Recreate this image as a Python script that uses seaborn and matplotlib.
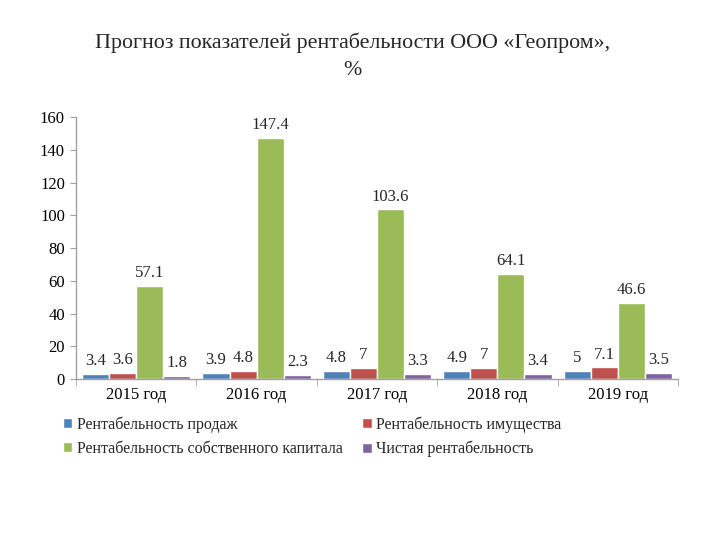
import pandas as pd
import matplotlib.pyplot as plt
import seaborn as sns

years = ["2015 год", "2016 год", "2017 год", "2018 год", "2019 год"]
series = [
    "Рентабельность продаж",
    "Рентабельность имущества",
    "Рентабельность собственного капитала",
    "Чистая рентабельность",
]
sales = [3.4, 3.9, 4.8, 4.9, 5]
assets = [3.6, 4.8, 7, 7, 7.1]
equity = [57.1, 147.4, 103.6, 64.1, 46.6]
net = [1.8, 2.3, 3.3, 3.4, 3.5]
colors = ["#4F81BD", "#C0504D", "#9BBB59", "#8064A2"]

rows = []
for name, vals in zip(series, [sales, assets, equity, net]):
    for y, v in zip(years, vals):
        rows.append({"year": y, "series": name, "value": v})
df = pd.DataFrame(rows)

sns.set_style("white")
plt.rcParams["font.family"] = ["Liberation Serif", "DejaVu Serif"]

fig = plt.figure(figsize=(7.2, 5.4), dpi=100)
ax = fig.add_axes([0.1056, 0.298, 0.836, 0.485])

sns.barplot(data=df, x="year", y="value", hue="series", palette=colors,
            width=0.9, gap=0, saturation=1, ax=ax, legend=True)

for cont in ax.containers:
    labels = [f"{v:g}" for v in cont.datavalues]
    ax.bar_label(cont, labels=labels, padding=3.5, fontsize=12)

ax.set_ylim(0, 160)
ax.set_yticks(range(0, 161, 20))
ax.set_xlim(-0.5, 4.5)
ax.set_xlabel("")
ax.set_ylabel("")
ax.tick_params(axis="both", labelsize=12, colors="black")
ax.tick_params(axis="x", length=0, pad=6)
ax.tick_params(axis="y", length=4, color="#A0A0A0", left=True, pad=4)
ax.set_xticks([-0.5, 0.5, 1.5, 2.5, 3.5, 4.5], minor=True)
ax.tick_params(axis="x", which="minor", length=5, color="#A0A0A0", bottom=True)
for side in ["top", "right"]:
    ax.spines[side].set_visible(False)
for side in ["left", "bottom"]:
    ax.spines[side].set_color("#A0A0A0")
    ax.spines[side].set_linewidth(1)

handles, labels = ax.get_legend_handles_labels()
ax.get_legend().remove()
order = [0, 2, 1, 3]
fig.legend([handles[i] for i in order], [labels[i] for i in order],
           loc="upper left", bbox_to_anchor=(0.076, 0.244), ncol=2,
           frameon=False, fontsize=11.5, handlelength=0.6, handleheight=0.6,
           handletextpad=0.3, columnspacing=1.2, labelspacing=0.5, borderpad=0)

fig.text(0.49, 0.94, "Прогноз показателей рентабельности ООО «Геопром»,\n%",
         ha="center", va="top", fontsize=15.8, linespacing=1.55)

fig.savefig("out.png", dpi=100)
plt.close()
